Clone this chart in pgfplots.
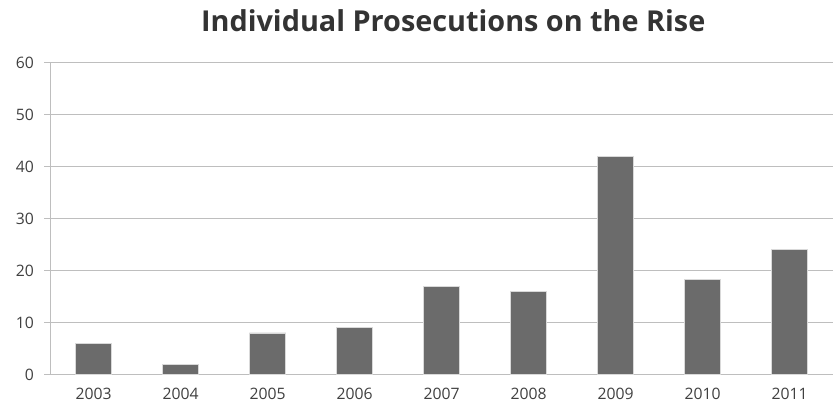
\documentclass[border=0pt]{standalone}
\usepackage{pgfplots}
\pgfplotsset{compat=1.18}
\usepackage{fontspec}
\setmainfont{Open Sans}
\definecolor{barfill}{HTML}{6B6B6B}
\definecolor{gridc}{HTML}{BEBEBE}
\definecolor{labc}{HTML}{404040}
\begin{document}
\begin{tikzpicture}
    \begin{axis}[
        scale only axis,
        width=587pt,
        height=234pt,
        ybar,
        bar width=0.42,
        xmin=-0.5, xmax=8.5,
        ymin=0, ymax=60,
        ytick={0,10,...,60},
        xtick={0,...,8},
        xticklabels={2003,2004,2005,2006,2007,2008,2009,2010,2011},
        extra x ticks={0.5,1.5,...,7.5},
        extra x tick labels={},
        extra x tick style={major tick length=4pt, tick style={gridc, line width=0.6pt}},
        major x tick style={draw=none},
        ymajorgrids,
        grid style={gridc, line width=0.6pt},
        axis x line*=bottom,
        axis y line*=left,
        axis line style={gridc, line width=0.6pt, -},
        tick align=outside,
        major tick length=4.5pt,
        y tick style={gridc, line width=0.6pt},
        tick label style={font=\fontsize{11.8}{13}\selectfont, text=labc},
        /pgf/number format/assume math mode=true,
        xticklabel style={yshift=-2pt},
        yticklabel style={xshift=-4pt},
        clip=false,
    ]
    \addplot [fill=barfill, draw=white!85!black, line width=0.5pt]
        coordinates {(0,6) (1,2) (2,8) (3,9) (4,17) (5,16) (6,42) (7,18.3) (8,24)};
    \node[font=\bfseries\fontsize{21.6}{25}\selectfont, text=black!80] at (rel axis cs:0.515,1.135) {Individual Prosecutions on the Rise};
    \coordinate (bbA) at (rel axis cs:-0.0639,-0.1);
    \coordinate (bbB) at (rel axis cs:1,1.2);
    \end{axis}
    \pgfresetboundingbox
    \path[use as bounding box] (bbA) rectangle (bbB);
\end{tikzpicture}
\end{document}
